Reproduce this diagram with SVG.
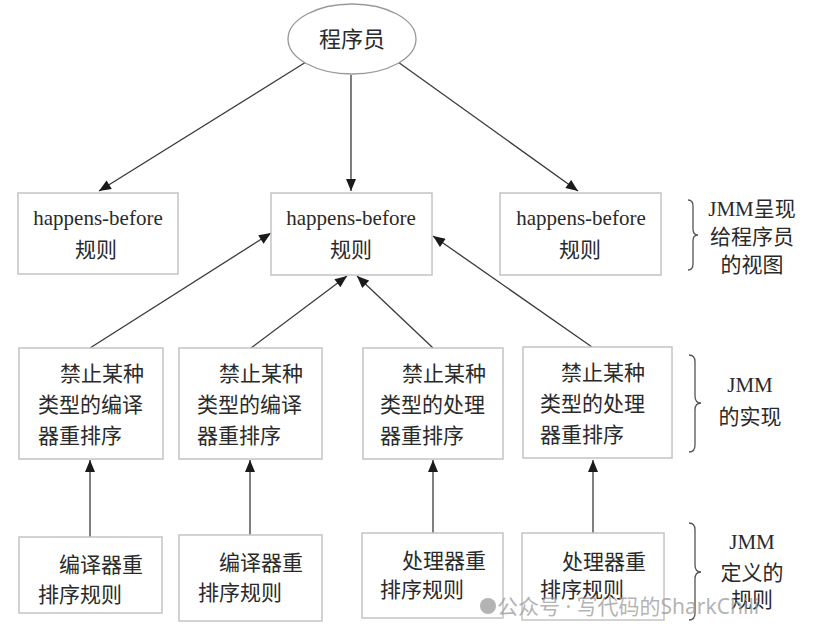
<svg xmlns="http://www.w3.org/2000/svg" width="813" height="639" viewBox="0 0 813 639">
<defs>
<marker id="ah" viewBox="0 0 12 10" refX="12" refY="5" markerWidth="13" markerHeight="10" markerUnits="userSpaceOnUse" orient="auto">
<path d="M0,0 L12,5 L0,10 Z" fill="#1a1a1a"/>
</marker>
<style>
.box{fill:#fff;stroke:#c4c4c4;stroke-width:1.5}
.t{font-family:"Liberation Serif","Noto Sans CJK SC",serif;font-size:21px;fill:#2a2a2a}
.c{text-anchor:middle}
.edge{stroke:#3a3a3a;stroke-width:1.3;fill:none;marker-end:url(#ah)}
.brace{stroke:#555;stroke-width:1.3;fill:none}
.wm{font-family:"Noto Sans","Noto Sans CJK SC",sans-serif;font-size:21px;fill:#9a9a9a;fill-opacity:0.75}
</style>
</defs>
<rect width="813" height="639" fill="#fff"/>

<g id="connectors">
<line class="edge" x1="306" y1="62" x2="99" y2="191"/>
<line class="edge" x1="351" y1="75" x2="351" y2="191"/>
<line class="edge" x1="398" y1="62" x2="578" y2="191"/>
<line class="edge" x1="90" y1="348" x2="271" y2="233"/>
<line class="edge" x1="251" y1="348" x2="347" y2="276"/>
<line class="edge" x1="433" y1="348" x2="357" y2="276"/>
<line class="edge" x1="592" y1="347" x2="433" y2="236"/>
<line class="edge" x1="90" y1="537" x2="90" y2="460"/>
<line class="edge" x1="250" y1="535" x2="250" y2="460"/>
<line class="edge" x1="433" y1="533" x2="433" y2="460"/>
<line class="edge" x1="593" y1="533" x2="593" y2="460"/>
</g>

<g id="programmer">
<ellipse cx="352" cy="39" rx="64" ry="35" fill="#fff" stroke="#999" stroke-width="1.3"/>
<text class="t c" x="352" y="47" style="font-size:22px">程序员</text>
</g>

<g id="hb1">
<rect class="box" x="18" y="193" width="160" height="81"/>
<text class="t c" x="98" y="225">happens-before</text>
<text class="t c" x="96" y="257">规则</text>
</g>
<g id="hb2">
<rect class="box" x="271" y="193" width="161" height="82"/>
<text class="t c" x="351" y="225">happens-before</text>
<text class="t c" x="351" y="257">规则</text>
</g>
<g id="hb3">
<rect class="box" x="500" y="193" width="161" height="82"/>
<text class="t c" x="581" y="225">happens-before</text>
<text class="t c" x="580" y="257">规则</text>
</g>

<g id="impl1">
<rect class="box" x="19" y="348" width="144" height="111"/>
<text class="t" x="60" y="381">禁止某种</text>
<text class="t" x="38" y="412">类型的编译</text>
<text class="t" x="38" y="443">器重排序</text>
</g>
<g id="impl2">
<rect class="box" x="179" y="348" width="143" height="111"/>
<text class="t" x="219" y="381">禁止某种</text>
<text class="t" x="197" y="412">类型的编译</text>
<text class="t" x="197" y="443">器重排序</text>
</g>
<g id="impl3">
<rect class="box" x="363" y="348" width="140" height="111"/>
<text class="t" x="402" y="381">禁止某种</text>
<text class="t" x="380" y="412">类型的处理</text>
<text class="t" x="380" y="443">器重排序</text>
</g>
<g id="impl4">
<rect class="box" x="523" y="347" width="149" height="111"/>
<text class="t" x="561" y="380">禁止某种</text>
<text class="t" x="540" y="411">类型的处理</text>
<text class="t" x="540" y="442">器重排序</text>
</g>

<g id="rule1">
<rect class="box" x="19" y="537" width="143" height="76"/>
<text class="t" x="59" y="572">编译器重</text>
<text class="t" x="38" y="602">排序规则</text>
</g>
<g id="rule2">
<rect class="box" x="179" y="535" width="143" height="86"/>
<text class="t" x="219" y="570">编译器重</text>
<text class="t" x="198" y="600">排序规则</text>
</g>
<g id="rule3">
<rect class="box" x="362" y="533" width="141" height="85"/>
<text class="t" x="402" y="568">处理器重</text>
<text class="t" x="380" y="597">排序规则</text>
</g>
<g id="rule4">
<rect class="box" x="522" y="533" width="142" height="87"/>
<text class="t" x="562" y="569">处理器重</text>
<text class="t" x="540" y="597">排序规则</text>
</g>

<g id="label-view">
<path class="brace" d="M688,200 Q693,200 693,206 L693,229 Q693,235 698,235 Q693,235 693,241 L693,264 Q693,270 688,270"/>
<text class="t c" x="752" y="216">JMM呈现</text>
<text class="t c" x="752" y="244">给程序员</text>
<text class="t c" x="752" y="272">的视图</text>
</g>
<g id="label-impl">
<path class="brace" d="M689,355 Q695,355 695,362 L695,396 Q695,403 701,403 Q695,403 695,410 L695,445 Q695,452 689,452"/>
<text class="t c" x="750" y="392">JMM</text>
<text class="t c" x="750" y="424">的实现</text>
</g>
<g id="label-rules">
<path class="brace" d="M689,523 Q695,523 695,530 L695,565 Q695,572 701,572 Q695,572 695,579 L695,613 Q695,620 689,620"/>
<text class="t c" x="752" y="549">JMM</text>
<text class="t c" x="752" y="580">定义的</text>
<text class="t c" x="752" y="607">规则</text>
</g>

<g id="watermark">
<circle cx="488" cy="606" r="8" fill="#9a9a9a" fill-opacity="0.75"/>
<text class="wm" x="497" y="614">公众号 · 写代码的SharkChili</text>
</g>
</svg>
